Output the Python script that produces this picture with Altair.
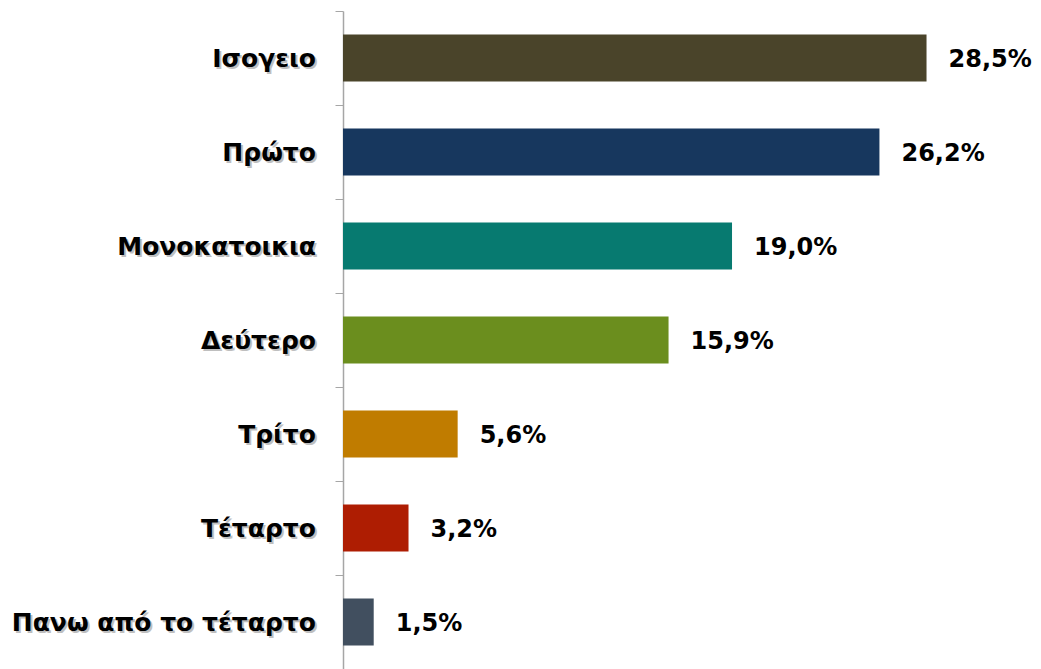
import altair as alt
import pandas as pd

categories = ["Ισογειο", "Πρώτο", "Μονοκατοικια", "Δεύτερο", "Τρίτο", "Τέταρτο", "Πανω από το τέταρτο"]
values = [28.5, 26.2, 19.0, 15.9, 5.6, 3.2, 1.5]
labels = ["28,5%", "26,2%", "19,0%", "15,9%", "5,6%", "3,2%", "1,5%"]
colors = ["#4a442a", "#17375e", "#077a70", "#6b8e1e", "#c07c00", "#ae1d02", "#414f5f"]

df = pd.DataFrame({"cat": categories, "val": values, "lab": labels})

FONT = "DejaVu Sans"

y_scale = alt.Scale(domain=categories, paddingInner=0, paddingOuter=0)

y_enc = alt.Y(
    "cat:N",
    sort=categories,
    title=None,
    scale=y_scale,
    axis=alt.Axis(
        labels=False,
        tickBand="extent",
        tickSize=8,
        tickColor="#a6a6a6",
        domainColor="#a6a6a6",
        domainWidth=1.5,
        grid=False,
    ),
)

x_scale = alt.Scale(domain=[0, 33.7], nice=False, zero=True)

bars = alt.Chart(df).mark_bar(height={"band": 0.5}).encode(
    y=y_enc,
    x=alt.X("val:Q", title=None, scale=x_scale, axis=None),
    color=alt.Color("cat:N", scale=alt.Scale(domain=categories, range=colors), legend=None),
)

text = alt.Chart(df).mark_text(
    align="left", baseline="middle", dx=22, dy=2, font=FONT, fontSize=24, fontWeight="bold", color="#000000"
).encode(
    y=alt.Y("cat:N", sort=categories),
    x=alt.X("val:Q"),
    text="lab:N",
)

cat_shadow = alt.Chart(df).mark_text(
    align="right", baseline="middle", dx=-25, dy=3, font=FONT, fontSize=25, fontWeight="bold",
    color="#8c8c8c", opacity=0.55
).encode(
    y=alt.Y("cat:N", sort=categories),
    x=alt.datum(0),
    text="cat:N",
)

cat_text = alt.Chart(df).mark_text(
    align="right", baseline="middle", dx=-27, dy=1, font=FONT, fontSize=25, fontWeight="bold", color="#000000"
).encode(
    y=alt.Y("cat:N", sort=categories),
    x=alt.datum(0),
    text="cat:N",
)

chart = (
    alt.layer(bars, text, cat_shadow, cat_text)
    .properties(
        width=690,
        height=658,
        autosize=alt.AutoSizeParams(type="none"),
        padding={"left": 335, "top": 3, "right": 0, "bottom": 0},
    )
    .configure(background="white", view=alt.ViewConfig(stroke=None))
)

chart.save("out.html", embed_options={"renderer": "svg", "actions": False})
